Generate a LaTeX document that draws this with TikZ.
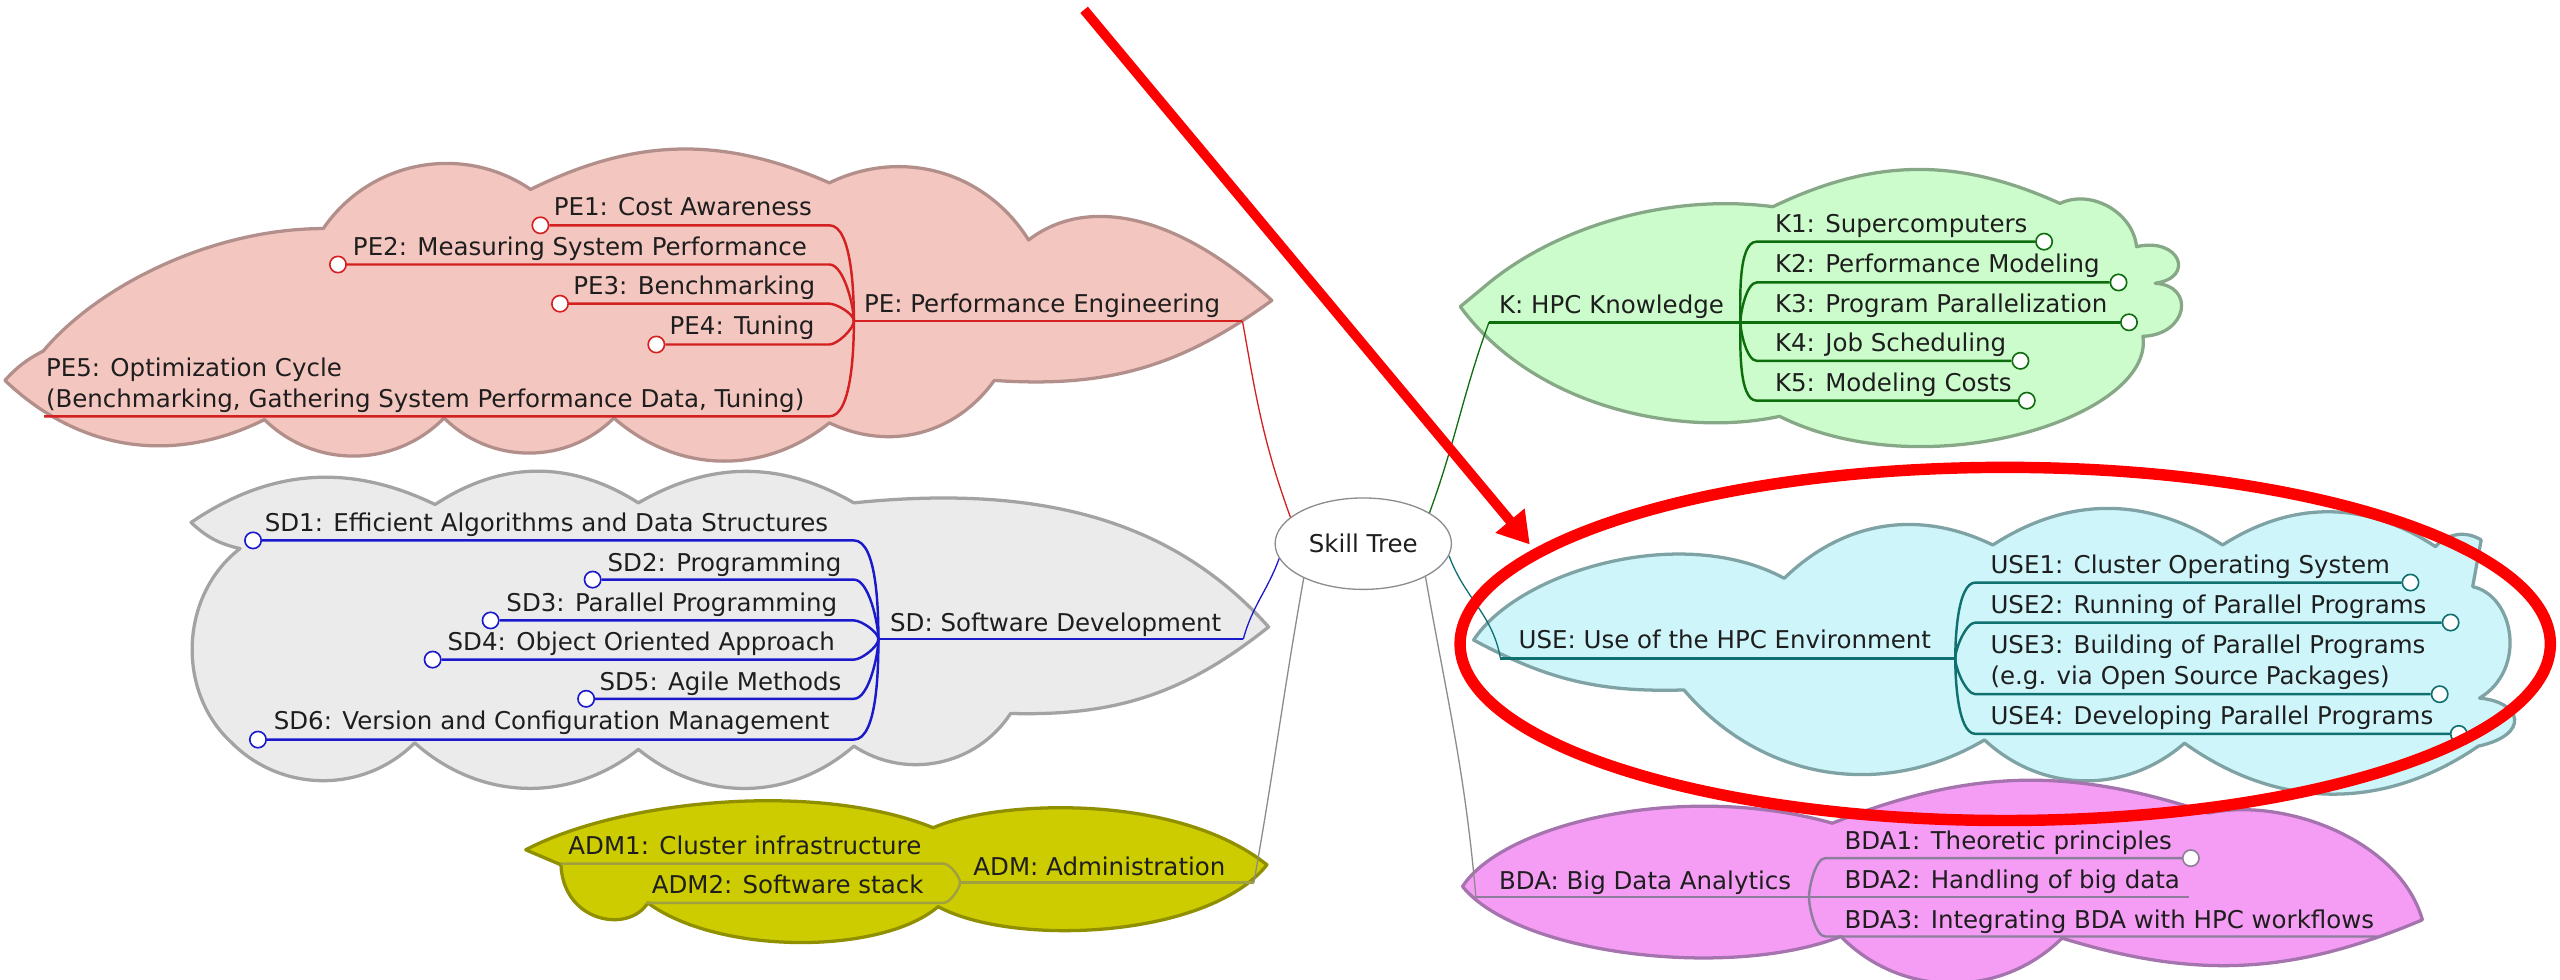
\documentclass[tikz,border=0pt]{standalone}
\usepackage{fontspec}
\setmainfont{DejaVu Sans}
\usetikzlibrary{shapes.geometric,arrows.meta}
\definecolor{txtc}{HTML}{1E1E1E}
\definecolor{pefill}{HTML}{F4C6C0}
\definecolor{pebord}{HTML}{B38F8C}
\definecolor{pec}{HTML}{D42020}
\definecolor{sdfill}{HTML}{EBEBEB}
\definecolor{sdbord}{HTML}{A3A3A3}
\definecolor{sdc}{HTML}{1A1ACC}
\definecolor{admfill}{HTML}{CCCC00}
\definecolor{admbord}{HTML}{8F8F00}
\definecolor{admc}{HTML}{A0A040}
\definecolor{kfill}{HTML}{CCFCCC}
\definecolor{kbord}{HTML}{86A886}
\definecolor{kc}{HTML}{0E6E0E}
\definecolor{usefill}{HTML}{CEF5FA}
\definecolor{usebord}{HTML}{7FA2A4}
\definecolor{usec}{HTML}{107070}
\definecolor{bdafill}{HTML}{F59DF5}
\definecolor{bdabord}{HTML}{A573AE}
\definecolor{bdac}{HTML}{8E7E9E}
\definecolor{rootc}{HTML}{8C8C8C}
\definecolor{annot}{HTML}{FF0000}
\begin{document}
\begin{tikzpicture}[x=1pt,y=-1pt,
  lbl/.style={inner sep=0pt,anchor=base west,text=txtc,font=\fontsize{15}{19}\selectfont,align=left},
  dot/.style={circle,fill=white,line width=1pt,minimum size=10pt,inner sep=0pt},
  cloudline/.style={line width=2pt,line join=round},
  branch/.style={line width=1.5pt},
  trunk/.style={line width=0.8pt},
  pecloud/.style={cloudline,fill=pefill,draw=pebord},
  sdcloud/.style={cloudline,fill=sdfill,draw=sdbord},
  admcloud/.style={cloudline,fill=admfill,draw=admbord},
  kcloud/.style={cloudline,fill=kfill,draw=kbord},
  usecloud/.style={cloudline,fill=usefill,draw=usebord},
  bdacloud/.style={cloudline,fill=bdafill,draw=bdabord},
  pel/.style={branch,draw=pec}, pedot/.style={dot,draw=pec},
  sdl/.style={branch,draw=sdc}, sddot/.style={dot,draw=sdc},
  adml/.style={branch,draw=admc},
  kl/.style={branch,draw=kc}, kdot/.style={dot,draw=kc},
  usel/.style={branch,draw=usec}, usedot/.style={dot,draw=usec},
  bdal/.style={branch,draw=bdac}, bdadot/.style={dot,draw=bdac},
  lup/.style={out=0,in=90,looseness=0.6},
  ldn/.style={out=0,in=-90,looseness=0.6},
  rup/.style={out=90,in=180,looseness=0.6},
  rdn/.style={out=-90,in=180,looseness=0.6},
  annotline/.style={draw=annot,line width=6pt},
]
\useasboundingbox (0,0) rectangle (1568,600);
\fill[white] (0,0) rectangle (1568,600);

% ---------- clouds ----------
\draw[pecloud] (3,233) to[bend left=10] (26.5,215) .. controls (60,175) and (130,140) .. (198,140) to[bend left=45] (325,116) to[bend left=25] (508,112) to[bend left=42] (630,147) .. controls (665,120) and (720,130) .. (779,184) to[bend left=20] (609,233) to[bend left=40] (508,259) to[bend left=40] (376,256) to[bend left=45] (272,256) to[bend left=45] (162,257) to[bend left=35] (3,233) -- cycle;

\draw[sdcloud] (117,320) to[bend left=30] (266.5,309) to[bend left=33] (391,308) to[bend left=30] (523,308) .. controls (640,296) and (720,320) .. (777,384) to[bend left=20] (619,437) to[bend left=45] (523,457) to[bend left=40] (391,459) to[bend left=40] (254,455) to[bend left=45] (142,455) to[bend left=50] (147,336) to[bend left=15] (117,320) -- cycle;

\draw[admcloud] (322,520.5) .. controls (380,490) and (500,478) .. (571.6,507) .. controls (610,490) and (720,485) .. (776,529.7) .. controls (740,575) and (620,580) .. (574.6,555.3) .. controls (540,585) and (440,585) .. (396.8,553) .. controls (385,572) and (345,565) .. (343.6,529.7) -- (322,520.5) -- cycle;

\draw[kcloud] (894.4,187.8) -- (908,176.6) .. controls (950,140) and (1020,118) .. (1085.9,126.6) to[bend left=25] (1261.7,124.6) to[bend left=55] (1308.6,151.1) .. controls (1335,145) and (1345,170) .. (1320,173.5) .. controls (1345,175) and (1340,205) .. (1312.5,206) .. controls (1320,255) and (1180,300) .. (1090,255) .. controls (1030,268) and (940,250) .. (894.4,187.8) -- cycle;

\draw[usecloud] (902.6,392) .. controls (930,350) and (1030,320) .. (1092.8,354.2) to[bend left=35] (1220.6,333.8) to[bend left=33] (1361.3,333.8) to[bend left=33] (1491.7,334.8) to[bend left=40] (1519.7,330.7) -- (1514.5,359.3) .. controls (1540,365) and (1548,410) .. (1518.7,427.6) .. controls (1545,430) and (1550,450) .. (1518,457) to[bend left=35] (1338,455.2) to[bend left=42] (1215.5,453.2) to[bend left=40] (1031.4,422.6) to[bend left=15] (902.6,392) -- cycle;

\draw[bdacloud] (895.8,543) .. controls (920,505) and (1030,478) .. (1122.3,504.2) to[bend left=20] (1352.7,498) .. controls (1400,488) and (1470,515) .. (1483.7,563.4) to[bend left=20] (1263,574.6) to[bend left=45] (1127.5,573.6) .. controls (1060,600) and (930,585) .. (895.8,543) -- cycle;

% ---------- root ----------
\node[ellipse,draw=rootc,trunk,fill=white,minimum width=108pt,minimum height=56pt,inner sep=0pt,text=txtc,font=\fontsize{15}{19}\selectfont] (root) at (835,333) {Skill Tree};

% ---------- PE ----------
\coordinate (peJ) at (523,196.5);
\coordinate (peEnd) at (761,196.5);
\node[lbl] (pe) at (529,191.5) {PE: Performance Engineering};
\node[lbl] (pe1) at (339,132) {PE1: Cost Awareness};
\node[lbl] (pe2) at (216,156.5) {PE2: Measuring System Performance};
\node[lbl] (pe3) at (351,180.5) {PE3: Benchmarking};
\node[lbl] (pe4) at (410,205) {PE4: Tuning};
\node[lbl] (pe5) at (28,249.5) {PE5: Optimization Cycle\\(Benchmarking, Gathering System Performance Data, Tuning)};
\node[pedot] (pe1c) at (331,138) {};
\node[pedot] (pe2c) at (207,162) {};
\node[pedot] (pe3c) at (343,186) {};
\node[pedot] (pe4c) at (402,211) {};
\coordinate (pe5s) at (27,255);
\coordinate (pe1e) at (508,138);
\coordinate (pe2e) at (508,162);
\coordinate (pe3e) at (508,186);
\coordinate (pe4e) at (508,211);
\coordinate (pe5e) at (508,255);
\draw[pel] (pe1c) -- (pe1e) to[lup] (peJ);
\draw[pel] (pe2c) -- (pe2e) to[lup] (peJ);
\draw[pel] (pe3c) -- (pe3e) to[lup] (peJ);
\draw[pel] (pe4c) -- (pe4e) to[ldn] (peJ);
\draw[pel] (pe5s) -- (pe5e) to[ldn] (peJ);
\draw[pel] (peJ) -- (peEnd);
\draw[trunk,draw=pec] (peEnd) to[out=-80,in=110] (root.160);

% ---------- SD ----------
\coordinate (sdJ) at (538,391.5);
\coordinate (sdEnd) at (761.5,391.5);
\node[lbl] (sd) at (545,386.5) {SD: Software Development};
\node[lbl] (sd1) at (162,325.5) {SD1: Efficient Algorithms and Data Structures};
\node[lbl] (sd2) at (372,350) {SD2: Programming};
\node[lbl] (sd3) at (310,374.5) {SD3: Parallel Programming};
\node[lbl] (sd4) at (274,398.5) {SD4: Object Oriented Approach};
\node[lbl] (sd5) at (367,423) {SD5: Agile Methods};
\node[lbl] (sd6) at (167.5,447) {SD6: Version and Configuration Management};
\node[sddot] (sd1c) at (155,331) {};
\node[sddot] (sd2c) at (363,355) {};
\node[sddot] (sd3c) at (300.5,380) {};
\node[sddot] (sd4c) at (265,404) {};
\node[sddot] (sd5c) at (359,428) {};
\node[sddot] (sd6c) at (158,453) {};
\coordinate (sd1e) at (523,331);
\coordinate (sd2e) at (523,355);
\coordinate (sd3e) at (523,380);
\coordinate (sd4e) at (523,404);
\coordinate (sd5e) at (523,428);
\coordinate (sd6e) at (523,453);
\draw[sdl] (sd1c) -- (sd1e) to[lup] (sdJ);
\draw[sdl] (sd2c) -- (sd2e) to[lup] (sdJ);
\draw[sdl] (sd3c) -- (sd3e) to[lup] (sdJ);
\draw[sdl] (sd4c) -- (sd4e) to[ldn] (sdJ);
\draw[sdl] (sd5c) -- (sd5e) to[ldn] (sdJ);
\draw[sdl] (sd6c) -- (sd6e) to[ldn] (sdJ);
\draw[sdl] (sdJ) -- (sdEnd);
\draw[trunk,draw=sdc] (sdEnd) to[out=75,in=250] (root.190);

% ---------- ADM ----------
\coordinate (admJ) at (588,540.5);
\coordinate (admEnd) at (768,540.5);
\node[lbl] (adm) at (596,536) {ADM: Administration};
\node[lbl] (adm1) at (348,523.5) {ADM1: Cluster infrastructure};
\node[lbl] (adm2) at (399,547.5) {ADM2: Software stack};
\coordinate (adm1s) at (343.6,529);
\coordinate (adm2s) at (395.7,553);
\coordinate (adm1e) at (578,529);
\coordinate (adm2e) at (578,553);
\draw[adml] (adm1s) -- (adm1e) to[lup] (admJ);
\draw[adml] (adm2s) -- (adm2e) to[ldn] (admJ);
\draw[adml] (admJ) -- (admEnd);
\draw[trunk,draw=rootc] (root.210) to[out=-100,in=80] (admEnd);

% ---------- K ----------
\coordinate (kJ) at (1066,197.4);
\coordinate (kStart) at (912,197.4);
\node[lbl] (k) at (918,192) {K: HPC Knowledge};
\node[lbl] (k1) at (1087,142.5) {K1: Supercomputers};
\node[lbl] (k2) at (1087,167) {K2: Performance Modeling};
\node[lbl] (k3) at (1087,191.5) {K3: Program Parallelization};
\node[lbl] (k4) at (1087,215.5) {K4: Job Scheduling};
\node[lbl] (k5) at (1087,240) {K5: Modeling Costs};
\node[kdot] (k1c) at (1252,148) {};
\node[kdot] (k2c) at (1297.6,173) {};
\node[kdot] (k3c) at (1304,197.4) {};
\node[kdot] (k4c) at (1237.5,221) {};
\node[kdot] (k5c) at (1241.4,245.4) {};
\coordinate (k1s) at (1076,148);
\coordinate (k2s) at (1076,173);
\coordinate (k4s) at (1076,221);
\coordinate (k5s) at (1076,245.4);
\draw[kl] (kJ) to[rup] (k1s) -- (k1c);
\draw[kl] (kJ) to[rup] (k2s) -- (k2c);
\draw[kl] (kJ) -- (k3c);
\draw[kl] (kJ) to[rdn] (k4s) -- (k4c);
\draw[kl] (kJ) to[rdn] (k5s) -- (k5c);
\draw[kl] (kStart) -- (kJ);
\draw[trunk,draw=kc] (kStart) to[out=-110,in=70] (root.25);

% ---------- USE ----------
\coordinate (useJ) at (1197.6,403.2);
\coordinate (useStart) at (919,403.2);
\node[lbl] (use) at (930,397.5) {USE: Use of the HPC Environment};
\node[lbl] (use1) at (1219,351.5) {USE1: Cluster Operating System};
\node[lbl] (use2) at (1219,376) {USE2: Running of Parallel Programs};
\node[lbl] (use3) at (1219,419.5) {USE3: Building of Parallel Programs\\(e.g. via Open Source Packages)};
\node[lbl] (use4) at (1219,444) {USE4: Developing Parallel Programs};
\node[usedot] (use1c) at (1476.4,356.8) {};
\node[usedot] (use2c) at (1501,381.3) {};
\node[usedot] (use3c) at (1494.3,425.2) {};
\node[usedot] (use4c) at (1506,449.5) {};
\coordinate (use1s) at (1210,356.8);
\coordinate (use2s) at (1210,381.3);
\coordinate (use3s) at (1210,425.2);
\coordinate (use4s) at (1210,449.5);
\draw[usel] (useJ) to[rup] (use1s) -- (use1c);
\draw[usel] (useJ) to[rup] (use2s) -- (use2c);
\draw[usel] (useJ) to[rdn] (use3s) -- (use3c);
\draw[usel] (useJ) to[rdn] (use4s) -- (use4c);
\draw[usel] (useStart) -- (useJ);
\draw[trunk,draw=usec] (root.-8) to[out=-70,in=100] (useStart);

% ---------- BDA ----------
\coordinate (bdaJ) at (1108,549.5);
\coordinate (bdaStart) at (904,549.5);
\node[lbl] (bda) at (918,545) {BDA: Big Data Analytics};
\node[lbl] (bda1) at (1129.6,520.5) {BDA1: Theoretic principles};
\node[lbl] (bda2) at (1129.6,544.5) {BDA2: Handling of big data};
\node[lbl] (bda3) at (1129.6,568.5) {BDA3: Integrating BDA with HPC workflows};
\node[bdadot] (bda1c) at (1341.9,525.6) {};
\coordinate (bda1s) at (1118,525.6);
\coordinate (bda2e) at (1341,549.5);
\coordinate (bda3s) at (1118,573.6);
\coordinate (bda3e) at (1456,573.6);
\draw[bdal] (bdaJ) to[rup] (bda1s) -- (bda1c);
\draw[bdal] (bdaJ) -- (bda2e);
\draw[bdal] (bdaJ) to[rdn] (bda3s) -- (bda3e);
\draw[bdal] (bdaStart) -- (bdaJ);
\draw[trunk,draw=rootc] (root.-28) to[out=-80,in=95] (bdaStart);

% ---------- annotation ----------
\node[ellipse,draw=annot,line width=7pt,inner sep=0pt,minimum width=667.8pt,minimum height=216.3pt] (mark) at (1228.2,394.4) {};
\coordinate (arrS) at (664,6);
\coordinate (arrT) at (937,333.5);
\draw[annotline,-{Triangle[length=19pt,width=22pt]}] (arrS) -- (arrT);
\end{tikzpicture}
\end{document}
